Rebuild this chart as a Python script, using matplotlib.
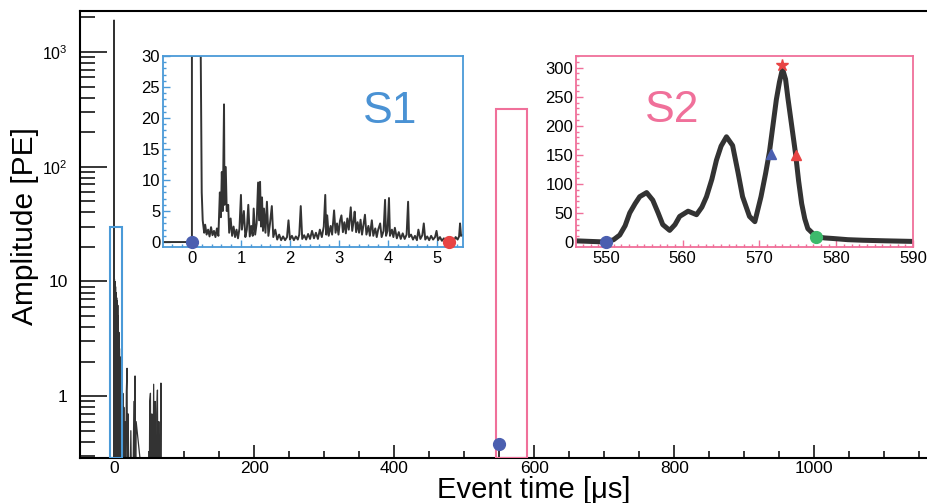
import matplotlib
matplotlib.use("Agg")
import matplotlib.pyplot as plt
from matplotlib.patches import Rectangle
from matplotlib.ticker import MultipleLocator, FixedLocator, LogLocator, NullFormatter, FixedFormatter

plt.rcParams['font.family'] = ['Liberation Sans', 'DejaVu Sans']
plt.rcParams['mathtext.fontset'] = 'custom'
plt.rcParams['mathtext.rm'] = 'Liberation Sans'

# full event waveform (time in us, amplitude in PE)
main_t = [-48, -0.3, 0.0, 0.3, 0.6, 1.0, 1.4, 1.8, 2.2, 2.6, 3.0, 3.4, 3.8, 4.2, 4.6,
          5.0, 5.4, 5.8, 6.2, 6.6, 7.0, 7.4, 7.8, 8.2, 8.6, 9.0, 9.4, 9.8, 10.2, 10.6,
          11.0, 11.6, 12.6, 13.2, 14.0, 14.6, 15.4, 16.2, 17.6, 18.6, 19.4, 20.2, 22.0,
          24.0, 26.0, 28.4, 29.2, 30.0, 30.8, 31.6, 50.0, 51.0, 52.0, 53.0, 54.0, 55.0,
          56.6, 57.6, 58.6, 60.0, 61.0, 62.0, 63.0, 64.0, 65.5, 67.0, 68.0, 1161]
main_amp = [0.01, 0.01, 1900, 0.05, 10.5, 0.05, 10.0, 0.08, 9.0, 0.1, 8.0, 0.05, 7.2, 0.1, 6.8,
            0.05, 6.2, 0.1, 5.0, 0.05, 3.6, 0.1, 2.6, 0.05, 2.2, 0.08, 1.5, 0.05, 1.1, 0.05,
            0.7, 0.05, 1.06, 0.05, 0.8, 0.05, 0.6, 0.05, 1.1, 1.75, 0.05, 0.7, 0.05,
            0.5, 0.05, 0.9, 0.05, 1.5, 0.05, 0.6, 0.05, 0.9, 1.06, 0.05, 0.7, 0.05,
            1.27, 0.05, 0.9, 0.05, 0.7, 1.13, 0.05, 0.6, 0.05, 1.3, 0.01, 0.01]

# S1 zoom (time in us, amplitude in PE)
s1_t = [-0.6, 0.0, 0.0, 0.18, 0.2, 0.22, 0.25, 0.27, 0.30, 0.33, 0.36, 0.39, 0.42, 0.45, 0.48,
        0.51, 0.54, 0.57, 0.59, 0.61, 0.63, 0.655, 0.665, 0.69, 0.71, 0.74, 0.76, 0.79, 0.82,
        0.85, 0.88, 0.91, 0.94, 0.97, 1.0, 1.02, 1.06, 1.09, 1.12, 1.15, 1.18, 1.21, 1.24,
        1.26, 1.29, 1.32, 1.35, 1.37, 1.39, 1.41, 1.43, 1.45, 1.47, 1.50, 1.53, 1.56, 1.59,
        1.63, 1.66, 1.70, 1.74, 1.78, 1.82, 1.86, 1.90, 1.94, 1.97, 2.0, 2.04, 2.08, 2.12,
        2.16, 2.19, 2.22, 2.25, 2.29, 2.33, 2.37, 2.41, 2.45, 2.49, 2.53, 2.57, 2.61, 2.65,
        2.69, 2.72, 2.74, 2.76, 2.79, 2.83, 2.86, 2.90, 2.93, 2.96, 2.99, 3.02, 3.05, 3.08,
        3.11, 3.14, 3.17, 3.20, 3.24, 3.27, 3.30, 3.32, 3.35, 3.38, 3.41, 3.44, 3.47, 3.50,
        3.53, 3.56, 3.60, 3.63, 3.67, 3.70, 3.74, 3.77, 3.80, 3.84, 3.87, 3.91, 3.94, 3.96,
        3.99, 4.02, 4.04, 4.08, 4.11, 4.14, 4.18, 4.22, 4.26, 4.30, 4.34, 4.38, 4.41, 4.43,
        4.47, 4.51, 4.55, 4.59, 4.62, 4.66, 4.70, 4.73, 4.76, 4.80, 4.84, 4.88, 4.92, 4.96,
        4.99, 5.02, 5.06, 5.10, 5.14, 5.18, 5.22, 5.26, 5.30, 5.34, 5.38, 5.42, 5.45, 5.47,
        5.49, 5.54]
s1_amp = [0.0, 0.0, 30.0, 30.0, 8.0, 3.5, 1.5, 2.8, 1.2, 2.0, 0.9, 2.4, 1.1, 1.8, 0.8,
          2.2, 1.0, 8.0, 4.0, 11.3, 5.0, 22.2, 6.0, 12.1, 5.0, 6.0, 1.5, 3.8, 1.0,
          2.5, 0.8, 2.0, 0.6, 2.2, 7.6, 2.0, 5.0, 0.8, 2.0, 6.0, 0.9, 2.6, 1.0,
          5.4, 1.2, 3.0, 9.6, 3.5, 9.7, 2.5, 7.2, 1.8, 5.4, 1.5, 6.5, 1.0, 2.8,
          5.8, 0.8, 2.0, 0.4, 1.2, 0.3, 0.9, 0.3, 0.8, 3.5, 0.4, 1.0, 0.3, 0.9,
          0.4, 1.2, 5.8, 0.5, 1.1, 0.4, 1.3, 0.5, 1.8, 0.6, 1.5, 0.5, 2.0, 0.8,
          2.5, 7.6, 1.2, 4.3, 1.0, 2.6, 1.2, 5.1, 1.5, 3.0, 1.2, 3.4, 4.3, 1.6,
          3.2, 1.4, 3.8, 2.0, 5.6, 1.8, 3.5, 4.9, 1.6, 3.2, 1.5, 3.6, 1.2, 2.8,
          4.4, 1.2, 2.6, 1.0, 3.5, 1.0, 2.2, 0.8, 2.0, 3.0, 0.8, 1.8, 6.8, 1.0,
          1.8, 7.1, 1.0, 2.0, 0.8, 2.3, 0.6, 1.6, 0.5, 1.4, 0.5, 1.2, 6.5, 0.8,
          1.2, 0.4, 1.0, 0.3, 2.0, 0.5, 1.1, 3.0, 0.4, 0.9, 0.3, 1.0, 0.4, 0.8,
          1.8, 0.3, 0.8, 0.2, 0.6, 0.2, 0.7, 0.2, 0.6, 0.2, 0.8, 0.4, 0.9, 3.0,
          1.0, 1.2]

# S2 zoom (time in us, amplitude in PE)
s2_t = [546.1, 548.0, 550.0, 551.0, 551.8, 552.5, 553.1, 553.8, 554.4, 555.3, 556.1, 556.8,
        557.4, 558.3, 559.0, 559.6, 560.7, 561.8, 562.5, 563.1, 563.8, 564.4, 565.0, 565.7,
        566.5, 567.2, 567.8, 568.7, 569.4, 570.2, 570.8, 571.3, 571.8, 572.2, 572.6, 573.0,
        573.4, 573.7, 574.2, 574.7, 575.1, 575.5, 575.9, 576.3, 577.4, 578.5, 579.6, 581.5,
        583.5, 586.5, 590.0]
s2_amp = [2, 1, 0, 4, 12, 28, 50, 66, 78, 85, 72, 50, 30, 20, 30, 44, 53, 47, 60, 78, 108,
          141, 165, 181, 166, 120, 78, 44, 35, 78, 118, 155, 205, 245, 275, 298, 280, 248,
          200, 152, 105, 66, 40, 23, 9, 7, 6, 4, 3, 2, 1]

# timing markers: start, half-maximum on rise/fall, peak, end
s1_start = (0.0, 0.0)
s1_end = (5.25, 0.0)
s2_start = (550.0, 0.0)
s2_half_rise = (571.5, 152)
s2_peak = (573.0, 305)
s2_half_fall = (574.8, 150)
s2_end = (577.4, 8)
main_s2_marker = (550.0, 0.38)

ink = '#333333'
blue_frame = '#4a9ad8'
pink_frame = '#f0709a'
dot_blue = '#4b5fb0'
dot_red = '#e84444'
dot_green = '#3dba6c'

W, H = 927, 503


def box(left, top, right, bottom):
    return [left / W, 1 - bottom / H, (right - left) / W, (bottom - top) / H]


fig = plt.figure(figsize=(W / 100, H / 100), dpi=100)

# ---- main waveform, log scale
ax = fig.add_axes(box(80, 10.5, 927, 458))
ax.set_yscale('log')
ax.plot(main_t, main_amp, color=ink, lw=0.9)
ax.set_xlim(-48.6, 1161)
ax.set_ylim(0.289, 2300)
ax.spines['right'].set_visible(False)
for s in ('left', 'bottom', 'top'):
    ax.spines[s].set_linewidth(1.5)
ax.yaxis.set_major_locator(FixedLocator([1, 10, 100, 1000]))
ax.yaxis.set_major_formatter(FixedFormatter(['1', '10', r'$\mathregular{10^2}$', r'$\mathregular{10^3}$']))
ax.yaxis.set_minor_locator(LogLocator(base=10, subs=range(2, 10)))
ax.yaxis.set_minor_formatter(NullFormatter())
ax.xaxis.set_major_locator(MultipleLocator(200))
ax.xaxis.set_minor_locator(MultipleLocator(50))
ax.tick_params(axis='y', which='major', direction='in', length=19.4, width=1.1, labelsize=12.5, pad=9)
ax.tick_params(axis='y', which='minor', direction='in', length=10.8, width=1.1)
ax.tick_params(axis='x', which='major', direction='in', length=9.4, width=1.1, labelsize=12.5, pad=2)
ax.tick_params(axis='x', which='minor', direction='in', length=4.7, width=1.1)
# power-of-ten labels are drawn a bit smaller
for lbl in ax.get_yticklabels():
    if '^' in lbl.get_text():
        lbl.set_fontsize(11.5)

ax.add_patch(Rectangle((-5.5, 0.289), 16.5, 30 - 0.289, fill=False, ec=blue_frame, lw=1.5, zorder=3))
ax.add_patch(Rectangle((546, 0.289), 44, 320 - 0.289, fill=False, ec=pink_frame, lw=1.5, zorder=3))
ax.plot(*main_s2_marker, 'o', color=dot_blue, ms=8.5, zorder=4)

fig.text(25 / W, 1 - 226 / H, 'Amplitude [PE]', rotation=90, fontsize=21.5, ha='center', va='center')
fig.text(534 / W, 1 - 490 / H, 'Event time [\u03bcs]', fontsize=21, ha='center', va='center')


def style_inset(a, color):
    for s in a.spines.values():
        s.set_color(color)
        s.set_linewidth(1.3)
    a.tick_params(which='both', direction='in', color=color, labelcolor='black',
                  labelsize=12, width=1.0)
    a.tick_params(which='major', length=5)
    a.tick_params(which='minor', length=2.5)
    a.tick_params(axis='y', pad=2)
    a.tick_params(axis='x', pad=3)


# ---- S1 inset
ax1 = fig.add_axes(box(163, 56, 463, 247))
ax1.plot(s1_t, s1_amp, color=ink, lw=1.4)
ax1.set_xlim(-0.59, 5.53)
ax1.set_ylim(-0.8, 30)
ax1.xaxis.set_major_locator(MultipleLocator(1))
ax1.xaxis.set_minor_locator(MultipleLocator(0.2))
ax1.yaxis.set_major_locator(MultipleLocator(5))
ax1.yaxis.set_minor_locator(MultipleLocator(1))
style_inset(ax1, blue_frame)
ax1.plot(*s1_start, 'o', color=dot_blue, ms=8.5, clip_on=False, zorder=4)
ax1.plot(*s1_end, 'o', color=dot_red, ms=8.5, clip_on=False, zorder=4)
ax1.text(4.04, 21.1, 'S1', color='#4a92d4', fontsize=32, ha='center', va='center')

# ---- S2 inset
ax2 = fig.add_axes(box(576, 56, 913, 247))
ax2.plot(s2_t, s2_amp, color=ink, lw=3.6, solid_joinstyle='round')
ax2.set_xlim(546.1, 590)
ax2.set_ylim(-8.6, 320)
ax2.xaxis.set_major_locator(MultipleLocator(10))
ax2.xaxis.set_minor_locator(MultipleLocator(1))
ax2.yaxis.set_major_locator(MultipleLocator(50))
ax2.yaxis.set_minor_locator(MultipleLocator(10))
style_inset(ax2, pink_frame)
ax2.plot(*s2_start, 'o', color=dot_blue, ms=8.5, clip_on=False, zorder=4)
ax2.plot(*s2_half_rise, '^', color=dot_blue, ms=7.5, zorder=4)
ax2.plot(*s2_peak, '*', color=dot_red, ms=9, zorder=4)
ax2.plot(*s2_half_fall, '^', color=dot_red, ms=7.5, zorder=4)
ax2.plot(*s2_end, 'o', color=dot_green, ms=8.5, zorder=4)
ax2.text(558.6, 227, 'S2', color='#f0709a', fontsize=32, ha='center', va='center')

fig.savefig('out.png', dpi=100)
